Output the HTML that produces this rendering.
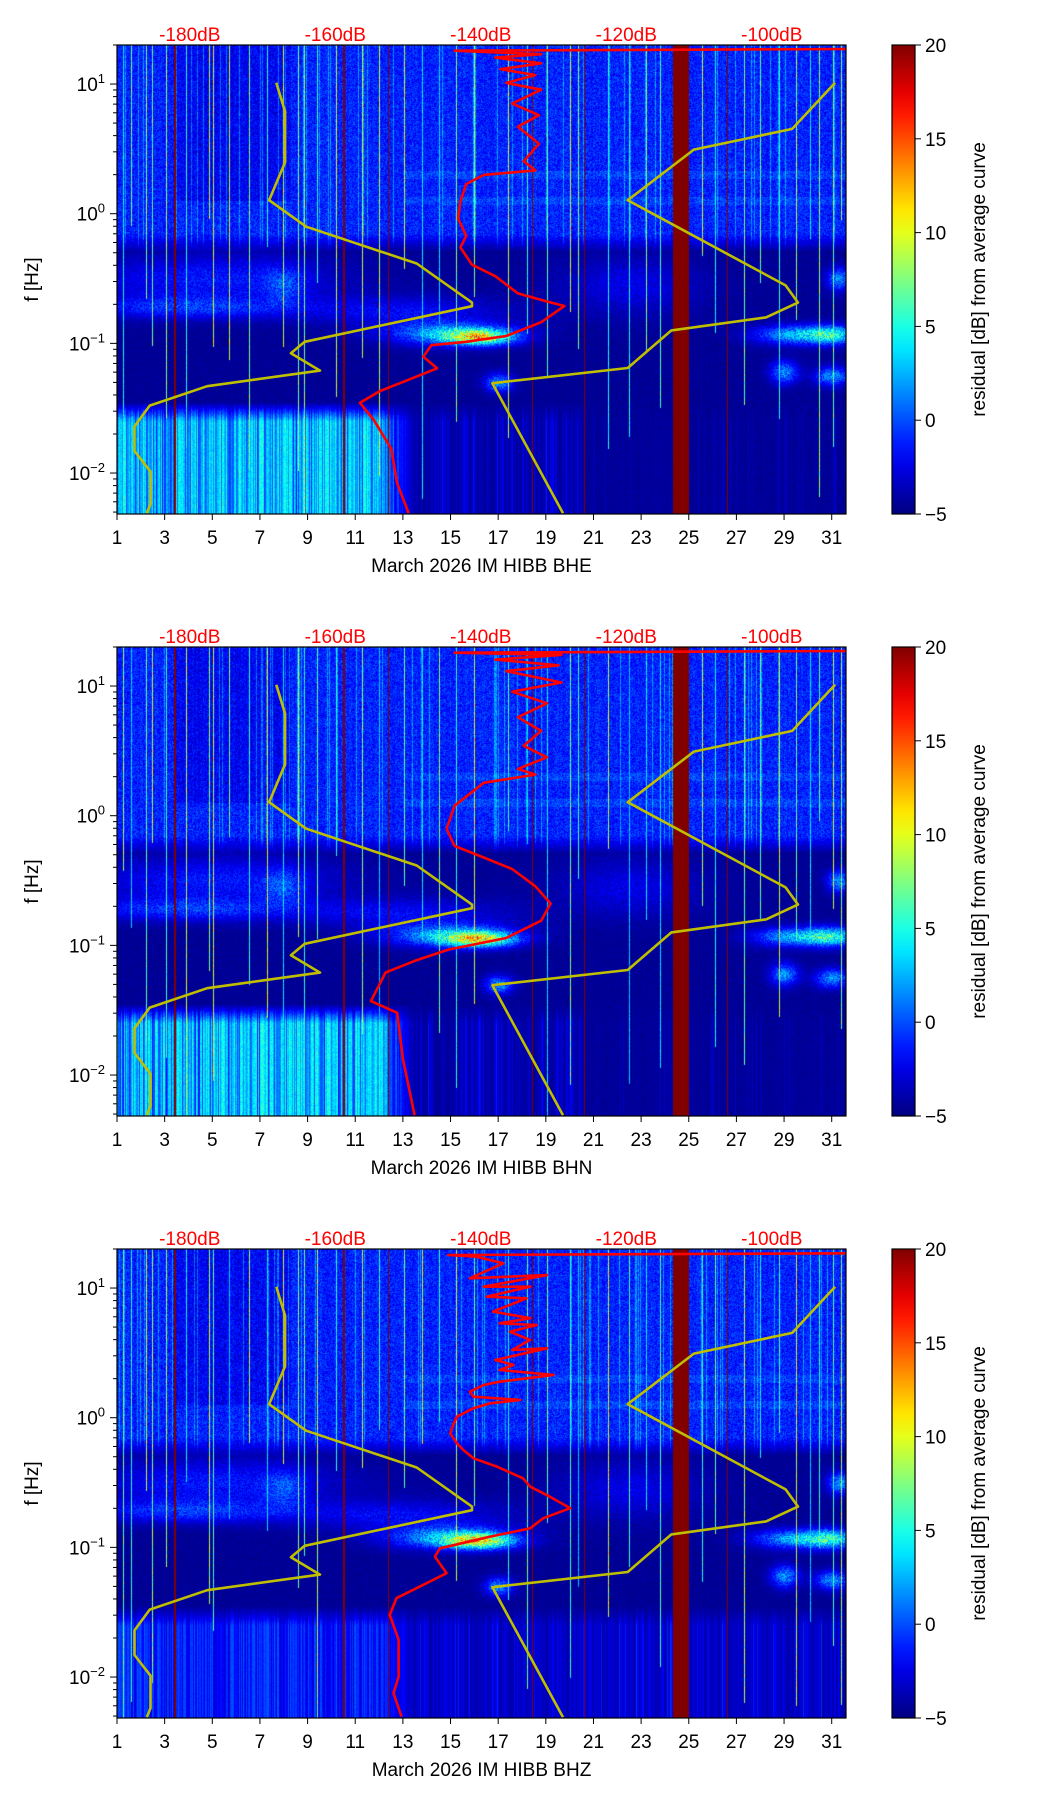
<!DOCTYPE html>
<html><head><meta charset="utf-8">
<style>
html,body{margin:0;padding:0;background:#fff;}
#wrap{position:relative;width:1052px;height:1806px;overflow:hidden;}
#bg{position:absolute;left:0;top:0;}
#ov{position:absolute;left:0;top:0;}
text{font-family:"Liberation Sans","DejaVu Sans",sans-serif;}
</style></head>
<body>
<div id="wrap">
<canvas id="bg" width="1052" height="1806"></canvas>
<svg id="ov" width="1052" height="1806" xmlns="http://www.w3.org/2000/svg"></svg>
</div>
<script>
// ---- data ----
const panelNames = ["BHE","BHN","BHZ"];
const dayTicks = [1,3,5,7,9,11,13,15,17,19,21,23,25,27,29,31];
const dbTicks = [-180,-160,-140,-120,-100];
const dbTickLabels = ["-180dB","-160dB","-140dB","-120dB","-100dB"];
const cbTicks = [20,15,10,5,0,-5];
const cbTickLabels = ["20","15","10","5","0","\u22125"];
const nlnmDb = [-168.1,-166.9,-166.9,-169.1,-164.0,-148.8,-141.2,-141.2,-164.2,-166.1,-162.1,-177.6,-185.5,-187.6,-187.6,-185.4,-185.4,-185.9];
const nlnmLogF = [1.01,0.787,0.397,0.104,-0.10,-0.384,-0.686,-0.713,-0.988,-1.076,-1.21,-1.33,-1.48,-1.64,-1.83,-1.99,-2.24,-2.31];
const nhnmDb = [-91.3,-97.2,-110.7,-119.8,-98.1,-96.4,-100.8,-113.8,-119.8,-138.4,-128.7];
const nhnmLogF = [1.01,0.654,0.494,0.104,-0.553,-0.686,-0.80,-0.90,-1.19,-1.307,-2.31];
const redDbE = [-89.8,-143.6,-131.7,-138.0,-131.7,-137.3,-132.5,-136.5,-131.7,-135.7,-132.0,-134.9,-132.0,-134.1,-132.5,-139.6,-142.0,-142.8,-143.1,-142.0,-142.8,-141.2,-138.0,-134.9,-130.9,-128.5,-131.7,-136.5,-142.0,-146.8,-147.9,-146.0,-149.9,-153.9,-156.6,-154.7,-152.3,-151.5,-149.9];
const redLogFE = [1.27,1.257,1.23,1.204,1.16,1.115,1.07,1.009,0.956,0.849,0.76,0.671,0.539,0.405,0.334,0.299,0.228,0.095,-0.038,-0.171,-0.26,-0.393,-0.482,-0.615,-0.677,-0.712,-0.837,-0.943,-0.988,-1.014,-1.103,-1.192,-1.28,-1.369,-1.458,-1.591,-1.813,-2.079,-2.31];
const redDbN = [-89.8,-143.6,-128.9,-138.0,-129.3,-136.5,-128.9,-135.7,-130.9,-134.9,-131.7,-134.1,-130.9,-134.9,-132.5,-139.6,-143.6,-144.7,-143.6,-139.6,-135.7,-132.5,-130.4,-131.7,-136.5,-144.4,-149.1,-153.1,-155.1,-151.5,-150.7,-149.1];
const redLogFN = [1.27,1.257,1.24,1.204,1.16,1.115,1.027,0.956,0.867,0.76,0.654,0.539,0.45,0.361,0.317,0.254,0.077,-0.10,-0.234,-0.322,-0.411,-0.544,-0.677,-0.81,-0.943,-1.032,-1.12,-1.21,-1.43,-1.52,-1.875,-2.31];
const redDbZ = [-89.8,-144.5,-140.6,-136.9,-141.5,-130.9,-139.6,-133.2,-139.2,-133.7,-138.3,-133.2,-137.4,-132.3,-136.0,-133.2,-135.7,-130.9,-138.0,-135.5,-137.4,-130.0,-137.4,-139.6,-141.5,-141.0,-134.6,-138.7,-141.0,-143.3,-143.8,-144.2,-143.3,-142.4,-141.0,-137.8,-134.2,-133.2,-130.5,-127.7,-131.4,-133.2,-138.7,-145.6,-146.3,-144.7,-147.0,-151.6,-152.5,-151.3,-151.3,-152.0,-150.9];
const redLogFZ = [1.268,1.255,1.242,1.191,1.075,1.10,1.01,1.01,0.933,0.921,0.818,0.767,0.728,0.715,0.663,0.60,0.522,0.535,0.445,0.407,0.368,0.33,0.278,0.252,0.201,0.162,0.137,0.111,0.073,0.008,-0.056,-0.12,-0.197,-0.249,-0.313,-0.377,-0.467,-0.532,-0.609,-0.698,-0.775,-0.853,-0.917,-1.007,-1.071,-1.199,-1.264,-1.392,-1.521,-1.714,-1.997,-2.125,-2.305];
const redDb = [redDbE, redDbN, redDbZ];
const redLogF = [redLogFE, redLogFN, redLogFZ];

// ---- geometry ----
const X0=117, X1=846, W=X1-X0, H=469;
const TOPS=[45,647,1249];
const DAYMAX=31.6, LFMAX=Math.log10(20), LFMIN=LFMAX-3.617;
const DBMIN=-190, DBMAX=-89.8;
const CBX0=892, CBX1=915;
const xDay = d => X0 + (d-1)/(DAYMAX-1)*W;
const yLog = (lf,top) => top + (LFMAX-lf)/(LFMAX-LFMIN)*H;
const xDb = db => X0 + (db-DBMIN)/(DBMAX-DBMIN)*W;
const yCb = (v,top) => top + (20-v)/25*H;

function jet(t){t=Math.max(0,Math.min(1,t));const c=x=>Math.max(0,Math.min(1,x));
 return [c(1.5-Math.abs(4*t-3)),c(1.5-Math.abs(4*t-2)),c(1.5-Math.abs(4*t-1))];}
function hsh(i){const x=Math.sin(i*12.9898+78.233)*43758.5453;return x-Math.floor(x);}

// ---- background texture (canvas) ----
(function(){
 const cv=document.getElementById('bg');const ctx=cv.getContext('2d');
 const spikes=[1.25,1.6,2.2,2.45,3.05,3.9,4.85,5.05,5.7,6.55,7.3,7.95,8.6,8.85,9.4,10.2,11.3,12.0,13.05,13.8,14.5,15.25,16.0,17.4,18.2,19.05,20.0,20.35,21.6,22.5,23.2,23.8,25.55,26.1,27.3,28.0,28.8,29.5,30.1,30.45,31.05,31.4];
 const reds=[[3.38,3.46],[10.48,10.56],[12.36,12.4],[18.4,18.43],[20.6,20.63],[24.3,25.0],[26.6,26.64]];
 const blobs=[[5,-0.5,3.5,0.13,3.0],[4,-0.72,3,0.06,3.5],[13,-0.75,3,0.08,2.5],[16.2,-0.95,1.0,0.04,11],[15,-0.92,1.8,0.06,7],[29.5,-0.93,1.2,0.05,7],[31,-0.93,0.7,0.05,7],[29,-1.22,0.4,0.06,6],[31,-1.25,0.5,0.05,6],[17,-1.3,0.4,0.05,6],[31.3,-0.5,0.35,0.06,6],[22.5,-0.55,2,0.15,2.0],[8,-0.55,0.6,0.1,3]];
 const botStr=[1,1,0.3];
 const img=ctx.createImageData(W,H);
 const spkCols={};
 for(let k=0;k<spikes.length;k++){spkCols[Math.round(xDay(spikes[k])-X0)]=k;}
 for(let p=0;p<3;p++){
  const d=img.data;
  for(let px=0;px<W;px++){
   const day=1+px/W*(DAYMAX-1);
   const ch=hsh(px*3+p*1013);
   const ch2=hsh(px*5+p*77+11);
   let spk=-99, spkLo=0;
   if(spkCols[px]!==undefined){const k=spkCols[px];spk=4+9*hsh(k*100+p);spkLo=-2.4+2.4*hsh(k*37+p*5);}
   let red=false; for(const r of reds){ if(day>=r[0]&&day<=r[1]) red=true; }
   for(let py=0;py<H;py++){
    const lf=LFMAX-py/H*(LFMAX-LFMIN);
    const n=hsh(px*7919+py*31+p*99991);
    let v=-4.9+0.3*n;
    if(lf>-0.3){
     const k=Math.min(1,(lf+0.3)/0.15);
     let u=-3.0+3.0*n+0.8*ch;
     if(day>3.4&&day<8.3&&lf>0.1) u-=1.0;
     if(day>13&&(Math.abs(lf-0.1)<0.03||Math.abs(lf-0.3)<0.03)) u+=0.8;
     if(ch>0.93) u+=2.5;
     v=v*(1-k)+u*k;
    } else {
     v+=0.6*n;
    }
    for(const b of blobs){const dx=(day-b[0])/b[2],dy=(lf-b[1])/b[3];const e=dx*dx+dy*dy;if(e<9) v+=b[4]*Math.exp(-e/2)*(0.7+0.6*n);}
    if(lf<-1.45){
     const f=Math.min(1,(-1.45-lf)/0.15);
     let u=v;
     if(day<13.5){
      const fade=day<12?1:Math.max(0,(13.5-day)/1.5);
      u=-4+ (2+8.5*Math.pow(ch,0.6)*(0.7+0.3*n))*botStr[p]*fade + (p===2?1.5*ch:0);
     }
     else if(day<20.5) u=-4.5+3.5*ch*ch2;
     else u=-4.8+2*ch*ch2*ch;
     if(p===2&&day>=13.5) u=-4+3.5*ch*ch2;
     v=v*(1-f)+Math.max(v,u)*f;
    }
    if(spk>-99 && lf>spkLo){ v=Math.max(v, spk*(0.5+0.5*n)); }
    if(red) v=20;
    const c=jet((v+5)/25);
    const i=(py*W+px)*4;
    d[i]=c[0]*255;d[i+1]=c[1]*255;d[i+2]=c[2]*255;d[i+3]=255;
   }
  }
  ctx.putImageData(img,X0,TOPS[p]);
 }
})();

// ---- SVG overlay ----
const NS="http://www.w3.org/2000/svg";
const svg=document.getElementById('ov');
function el(tag,attrs,parent){const e=document.createElementNS(NS,tag);for(const k in attrs)e.setAttribute(k,attrs[k]);(parent||svg).appendChild(e);return e;}

const defs=el('defs',{});
const grad=el('linearGradient',{id:'jetg',x1:0,y1:1,x2:0,y2:0},defs);
for(let i=0;i<=20;i++){const c=jet(i/20);el('stop',{offset:(i/20),'stop-color':`rgb(${Math.round(c[0]*255)},${Math.round(c[1]*255)},${Math.round(c[2]*255)})`},grad);}

for(let p=0;p<3;p++){
 const top=TOPS[p];
 const g=el('g',{});
 
 
 const cp=el('clipPath',{id:'clip'+p},defs);
 el('rect',{x:X0,y:top,width:W,height:H},cp);
 const curves=el('g',{'clip-path':`url(#clip${p})`},g);
 const lp=nlnmDb.map((d,i)=>xDb(d).toFixed(1)+','+yLog(nlnmLogF[i],top).toFixed(1)).join(' ');
 const l1=el('polyline',{points:lp,fill:'none',stroke:'#bfbf00','stroke-width':2.6,'stroke-linejoin':'round'},curves);
 
 
 const hp=nhnmDb.map((d,i)=>xDb(d).toFixed(1)+','+yLog(nhnmLogF[i],top).toFixed(1)).join(' ');
 const l2=el('polyline',{points:hp,fill:'none',stroke:'#bfbf00','stroke-width':2.6,'stroke-linejoin':'round'},curves);
 
 
 const rp=redDb[p].map((d,i)=>xDb(d).toFixed(1)+','+yLog(redLogF[p][i],top).toFixed(1)).join(' ');
 const l3=el('polyline',{points:rp,fill:'none',stroke:'#ff0000','stroke-width':2.6,'stroke-linejoin':'round'},curves);
 
 
 const fr=el('rect',{x:X0,y:top,width:W,height:H,fill:'none',stroke:'#000','stroke-width':1.2},g);
 
 
 dayTicks.forEach(d=>{const x=xDay(d);
  el('line',{x1:x,y1:top+H,x2:x,y2:top+H+6,stroke:'#000','stroke-width':1},g);
  const t=el('text',{x:x,y:top+H+30,'font-size':19,'text-anchor':'middle',fill:'#000'},g);t.textContent=d;
  
  
 });
 for(let e=-3;e<=1;e++){
  for(let m=1;m<10;m++){const lf=e+Math.log10(m);if(lf<LFMIN||lf>LFMAX)continue;const y=yLog(lf,top);
   el('line',{x1:X0-(m===1?7:4),y1:y,x2:X0,y2:y,stroke:'#000','stroke-width':1},g);
   if(m===1){const t=el('text',{x:X0-12,y:y+7,'font-size':19,'text-anchor':'end',fill:'#000'},g);
    
    
    const a=el('tspan',{},t);a.textContent='10';const b=el('tspan',{dy:-8,'font-size':13},t);b.textContent=(e<0?'\u2212':'')+Math.abs(e);}
  }
 }
 dbTicks.forEach((db,i)=>{const t=el('text',{x:xDb(db),y:top-4,'font-size':19,'text-anchor':'middle',fill:'#ff0000'},g);t.textContent=dbTickLabels[i];
  
  });
 const xl=el('text',{x:(X0+X1)/2,y:top+H+58,'font-size':19,'text-anchor':'middle',fill:'#000'},g);xl.textContent='March 2026 IM HIBB  '+panelNames[p];
 
 
 const yl=el('text',{x:0,y:0,'font-size':19,'text-anchor':'middle',fill:'#000',transform:`translate(38,${top+H/2}) rotate(-90)`},g);yl.textContent='f [Hz]';
 
 
 const cb=el('rect',{x:CBX0,y:top,width:CBX1-CBX0,height:H,fill:'url(#jetg)',stroke:'#000','stroke-width':1.2},g);
 
 
 cbTicks.forEach((v,i)=>{const y=yCb(v,top);
  el('line',{x1:CBX1,y1:y,x2:CBX1+6,y2:y,stroke:'#000','stroke-width':1},g);
  const t=el('text',{x:CBX1+10,y:y+7,'font-size':19,fill:'#000'},g);t.textContent=cbTickLabels[i];
  
  });
 const cl=el('text',{x:0,y:0,'font-size':19,'text-anchor':'middle',fill:'#000',transform:`translate(985,${top+H/2}) rotate(-90)`},g);cl.textContent='residual [dB] from average curve';
 
 
}
</script>
</body></html>
